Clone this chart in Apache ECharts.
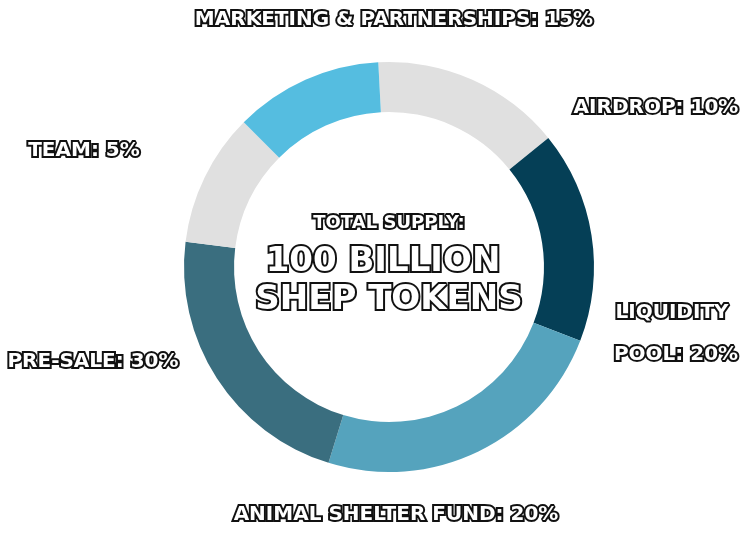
<!DOCTYPE html>
<html><head><meta charset="utf-8">
<script src="https://cdn.jsdelivr.net/npm/echarts@6/dist/echarts.min.js"></script>
<style>html,body{margin:0;padding:0;background:#fff}#c{width:745px;height:536px}</style>
</head><body><div id="c"></div>
<script>
// slice sizes (clockwise from the top)
const sliceNames = ['Marketing & Partnerships','Liquidity Pool (dark)','Animal Shelter Fund','Pre-Sale','Team','Airdrop (light)'];
const sliceValues = [15, 16.7, 23.9, 22.2, 10.5, 11.7];
const sliceColors = ['#e0e0e0','#053f56','#55a3bd','#3a6e7f','#e0e0e0','#55bde0'];
const labelTexts = ['MARKETING & PARTNERSHIPS: 15%','AIRDROP: 10%','TEAM: 5%','LIQUIDITY','POOL: 20%','PRE-SALE: 30%','ANIMAL SHELTER FUND: 20%'];
const labelPos = [[394,20],[656,108],[84,151],[672,313],[676,355],[93,362],[396,515]];
const centerTexts = ['TOTAL SUPPLY:','100 BILLION','SHEP TOKENS'];

const chart = echarts.init(document.getElementById('c'));
const graphics = labelTexts.map((t,i)=>({type:'text', x:labelPos[i][0], y:labelPos[i][1], style:{text:t, align:'center', verticalAlign:'middle',
  font:'bold 20px "DejaVu Sans"', fill:'#fff', stroke:'#111', lineWidth:4}, z:10}));
const cs=[[389,223,18],[383,262,34],[389,300,34]];
centerTexts.forEach((t,i)=>graphics.push({type:'text', x:cs[i][0], y:cs[i][1], style:{text:t, align:'center', verticalAlign:'middle',
  font:'bold '+cs[i][2]+'px "DejaVu Sans"', fill:'#fff', stroke:'#111', lineWidth:4}, z:10}));
chart.setOption({
  animation:false,
  graphic: graphics,
  series:[{type:'pie', center:[389,267], radius:[155,205], startAngle:93, clockwise:true,
    label:{show:false}, labelLine:{show:false}, emphasis:{disabled:true},
    data: sliceValues.map((v,i)=>({name:sliceNames[i], value:v, itemStyle:{color:sliceColors[i]}}))}]
});
</script></body></html>
